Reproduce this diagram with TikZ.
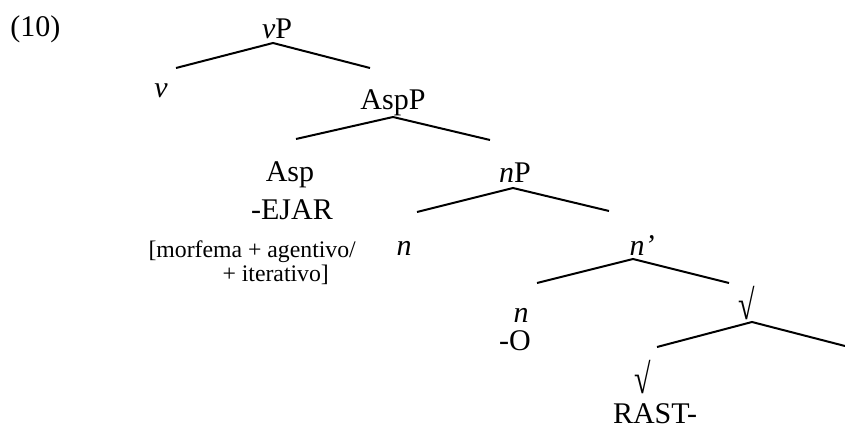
\documentclass[tikz,border=0pt]{standalone}
\usepackage{fontspec}
\setmainfont{Liberation Serif}
\tikzset{branch/.style={line width=0.8pt},
  lbl/.style={anchor=base, inner sep=0pt},
  feat/.style={anchor=base west, inner sep=0pt, font=\fontsize{9.5}{11}\selectfont}}
\newcommand{\rootsign}{\scalebox{1}[1.4]{√}}

\begin{document}
\begin{tikzpicture}[x=0.4pt,y=-0.4pt,font=\fontsize{12}{14}\selectfont]
  \useasboundingbox (0,0) rectangle (845,432);
  \node[lbl, anchor=base west] (ex) at (10,37) {(10)};
  % vP
  \node[lbl] (vP) at (277,39) {\textit{v}P};
  \coordinate (vP-a) at (273,43);
  \coordinate (vP-l) at (176,68);
  \coordinate (vP-r) at (370,68);
  \draw[branch] (vP-l) -- (vP-a) -- (vP-r);
  \node[lbl] (v) at (161,98) {\textit{v}};
  % AspP
  \node[lbl] (AspP) at (393,110) {AspP};
  \coordinate (AspP-a) at (393,117);
  \coordinate (AspP-l) at (296,139);
  \coordinate (AspP-r) at (490,140);
  \draw[branch] (AspP-l) -- (AspP-a) -- (AspP-r);
  \node[lbl] (Asp) at (290,182) {Asp};
  \node[lbl] (ejar) at (292,220) {-EJAR};
  \node[feat] (f1) at (148,257) {[morfema + agentivo/};
  \node[feat] (f2) at (222,281) {+ iterativo]};
  % nP
  \node[lbl] (nP) at (515,183) {\textit{n}P};
  \coordinate (nP-a) at (513,188);
  \coordinate (nP-l) at (417,212);
  \coordinate (nP-r) at (609,211);
  \draw[branch] (nP-l) -- (nP-a) -- (nP-r);
  \node[lbl] (n1) at (404,255) {\textit{n}};
  \node[lbl, anchor=base west] (nbar) at (629,255) {\textit{n’}};
  % n'
  \coordinate (nbar-a) at (633,259);
  \coordinate (nbar-l) at (537,283);
  \coordinate (nbar-r) at (729,283);
  \draw[branch] (nbar-l) -- (nbar-a) -- (nbar-r);
  \node[lbl] (n2) at (521,322) {\textit{n}};
  \node[lbl] (o) at (515,350) {-O};
  % root
  \node[lbl] (rt1) at (747,320) {\rootsign};
  \coordinate (rt-a) at (752,322);
  \coordinate (rt-l) at (657,347);
  \coordinate (rt-r) at (845,346);
  \draw[branch] (rt-l) -- (rt-a) -- (rt-r);
  \node[lbl] (rt2) at (643,393) {\rootsign};
  \node[lbl] (rast) at (655,423) {RAST-};
\end{tikzpicture}
\end{document}
